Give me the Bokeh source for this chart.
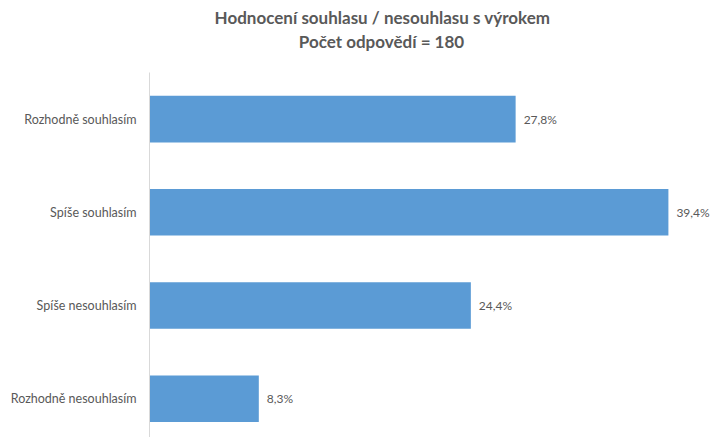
from bokeh.plotting import figure
from bokeh.layouts import column
from bokeh.models import Range1d, FixedTicker, ColumnDataSource
from bokeh.core.properties import value
from bokeh.embed import file_html
from bokeh.resources import INLINE

categories = ["Rozhodně souhlasím", "Spíše souhlasím", "Spíše nesouhlasím", "Rozhodně nesouhlasím"]
values = [27.8, 39.4, 24.4, 8.3]
value_labels = ["27,8%", "39,4%", "24,4%", "8,3%"]
title_lines = ["Hodnocení souhlasu / nesouhlasu s výrokem", "Počet odpovědí = 180"]

FONT = "Lato"
GRAY = "#595959"
BAR = "#5B9BD5"

# --- title strip (pixel coordinates; frame is aligned with the chart frame below) ---
th = figure(width=714, height=72, output_backend="svg", toolbar_location=None,
            x_range=Range1d(149, 714), y_range=Range1d(72, 0),
            min_border_left=149, min_border_right=0, min_border_top=0, min_border_bottom=0)
th.axis.visible = False
th.grid.visible = False
th.outline_line_color = None
th.title.visible = False
th.text(x=[382, 381], y=[17, 41], text=title_lines, text_align="center", text_baseline="middle",
        text_font=value(FONT), text_font_size="17px", text_font_style="bold", text_color=GRAY)

# --- bar chart ---
positions = list(range(len(categories)))
src = ColumnDataSource(dict(y=positions, v=values, lab=value_labels))

p = figure(width=714, height=365, output_backend="svg", toolbar_location=None,
           x_range=Range1d(0, 42.9), y_range=Range1d(3.416, -0.5),
           min_border_left=149, min_border_right=0, min_border_bottom=0, min_border_top=0)
p.title.visible = False

p.hbar(y="y", right="v", left=0, height=0.5, source=src, fill_color=BAR, line_color=None)
p.text(x="v", y="y", text="lab", source=src, x_offset=8, text_align="left", text_baseline="middle",
       text_font=value(FONT), text_font_size="12px", text_color=GRAY)

p.xaxis.visible = False
p.xgrid.visible = False
p.ygrid.visible = False
p.outline_line_color = None

ax = p.yaxis[0]
ax.ticker = FixedTicker(ticks=positions)
ax.major_label_overrides = {i: c for i, c in zip(positions, categories)}
ax.major_tick_line_color = None
ax.major_tick_out = 0
ax.major_tick_in = 0
ax.minor_tick_line_color = None
ax.axis_line_color = "#D9D9D9"
ax.major_label_text_font = FONT
ax.major_label_text_font_size = "12.5px"
ax.major_label_text_color = GRAY
ax.major_label_standoff = 13

layout = column(th, p, spacing=0)
open("out.html", "w").write(file_html(layout, INLINE))
